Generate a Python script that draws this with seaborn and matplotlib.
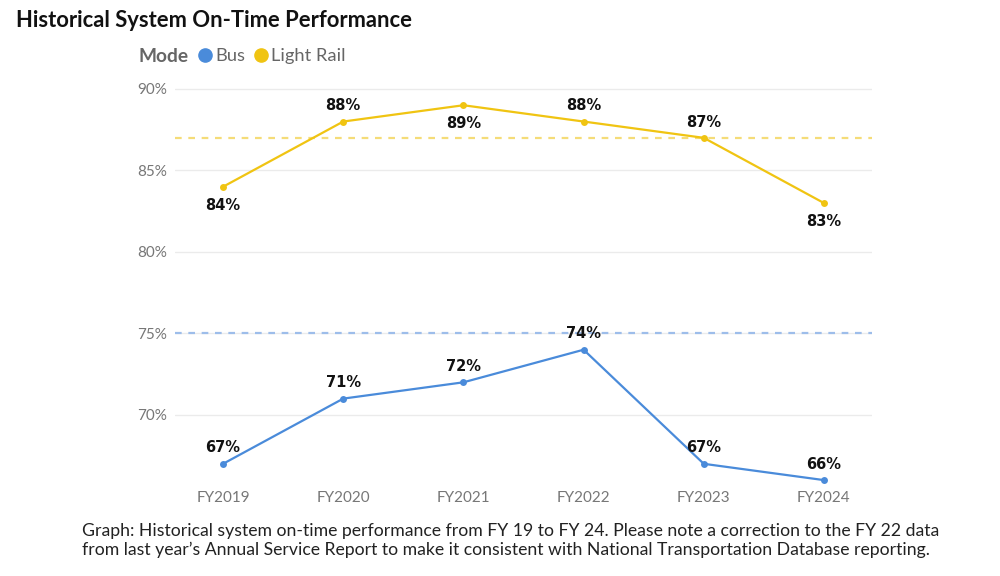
import matplotlib.pyplot as plt
from matplotlib.lines import Line2D
import pandas as pd
import seaborn as sns

# data
years = ['FY2019', 'FY2020', 'FY2021', 'FY2022', 'FY2023', 'FY2024']
bus = [67, 71, 72, 74, 67, 66]
light_rail = [84, 88, 89, 88, 87, 83]
bus_target = 75
rail_target = 87
# label above (+1) or below (-1) each point
bus_label_side = [1, 1, 1, 1, 1, 1]
rail_label_side = [-1, 1, -1, 1, 1, -1]

BUS_C = '#4A8BDA'
RAIL_C = '#F0C412'

sns.set_theme(style='white')
plt.rcParams['font.family'] = ['Lato', 'DejaVu Sans']

df = pd.DataFrame({
    'Year': years * 2,
    'Value': bus + light_rail,
    'Mode': ['Bus'] * len(years) + ['Light Rail'] * len(years),
})

fig = plt.figure(figsize=(10, 5.76), dpi=100)
ax = fig.add_axes([0.175, 0.158, 0.697, 0.689])

sns.lineplot(data=df, x='Year', y='Value', hue='Mode',
             palette={'Bus': BUS_C, 'Light Rail': RAIL_C},
             marker='o', markersize=5, markeredgewidth=0, linewidth=1.6,
             sort=False, legend=False, ax=ax)

ax.axhline(bus_target, color='#9DBDEA', linestyle=(0, (3, 3)), linewidth=1.6, zorder=1)
ax.axhline(rail_target, color='#F5DC78', linestyle=(0, (3, 3)), linewidth=1.6, zorder=1)

# data labels
for vals, sides in ((bus, bus_label_side), (light_rail, rail_label_side)):
    for i, (v, s) in enumerate(zip(vals, sides)):
        ax.annotate(f'{v}%', (i, v), xytext=(0, 6 * s if s > 0 else -8), textcoords='offset points',
                    ha='center', va='bottom' if s > 0 else 'top',
                    fontsize=10.5, fontweight='bold', color='#111111',
                    family=['DejaVu Sans Condensed', 'DejaVu Sans'])

ax.set_xlim(-0.4, len(years) - 0.6)
ax.set_ylim(65.7, 90.05)
ax.set_yticks([70, 75, 80, 85, 90])
ax.set_yticklabels([f'{t}%' for t in [70, 75, 80, 85, 90]])
ax.grid(axis='y', color='#EBEBEB', linewidth=1)
ax.grid(axis='x', visible=False)
for sp in ax.spines.values():
    sp.set_visible(False)
ax.tick_params(axis='both', length=0, labelsize=11, labelcolor='#777777')
ax.tick_params(axis='x', pad=4)
ax.tick_params(axis='y', pad=6)
ax.set_xlabel('')
ax.set_ylabel('')

fig.text(0.016, 0.965, 'Historical System On-Time Performance', fontsize=15.8,
         fontweight='bold', color='#111111', va='center')
fig.text(0.138, 0.902, 'Mode', fontsize=13.8, fontweight='bold', color='#666666', va='center')
handles = [Line2D([], [], marker='o', linestyle='', color=BUS_C, markersize=9.5),
           Line2D([], [], marker='o', linestyle='', color=RAIL_C, markersize=9.5)]
fig.legend(handles, ['Bus', 'Light Rail'], ncol=2, frameon=False,
           loc='center left', bbox_to_anchor=(0.196, 0.902), fontsize=13.2,
           labelcolor='#666666', handletextpad=0.05, columnspacing=0.35,
           handlelength=1.0, borderaxespad=0, borderpad=0)

fig.text(0.082, 0.062,
         'Graph: Historical system on-time performance from FY 19 to FY 24. '
         'Please note a correction to the FY 22 data\n'
         'from last year\u2019s Annual Service Report to make it consistent '
         'with National Transportation Database reporting.',
         fontsize=12.7, color='#222222', va='center', linespacing=1.2)

fig.savefig('out.png', dpi=100)
